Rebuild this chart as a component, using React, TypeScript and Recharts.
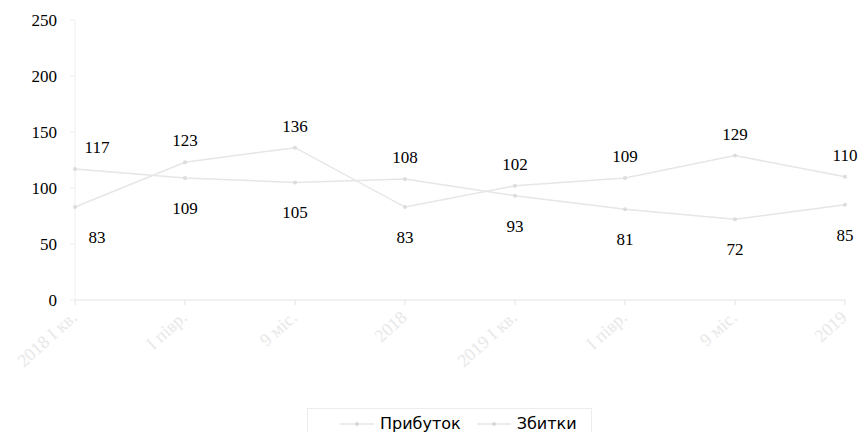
import { LineChart, Line, XAxis, YAxis, Legend, LabelList } from 'recharts';

const periods = ['2018 I кв.', 'I півр.', '9 міс.', '2018', '2019 I кв.', 'I півр.', '9 міс.', '2019'];
const profit = [117, 109, 105, 108, 93, 81, 72, 85];
const losses = [83, 123, 136, 83, 102, 109, 129, 110];
const yTicks = [0, 50, 100, 150, 200, 250];

const data = periods.map((p, i) => ({ id: i, period: p, profit: profit[i], losses: losses[i] }));

const lineColor = '#e6e6e6';
const serif = "'Liberation Serif', 'DejaVu Serif', serif";

const makeLabel = (own: number[], other: number[]) => (props: any) => {
    const { x, y, index, value } = props;
    const above = own[index] >= other[index];
    const dx = index === 0 ? 22 : 0;
    return (
        <text
            x={x + dx}
            y={above ? y - 16 : y + 36}
            textAnchor="middle"
            style={{ fontFamily: serif, fontSize: 17 }}
            fill="#000"
        >
            {value}
        </text>
    );
};

const YTick = (props: any) => {
    const { x, y, payload } = props;
    return (
        <text x={x} y={y + 6} textAnchor="end" style={{ fontFamily: serif, fontSize: 17 }} fill="#000">
            {payload.value}
        </text>
    );
};

const XTick = (props: any) => {
    const { x, y, payload } = props;
    return (
        <g transform={`translate(${x + 3},${y + 12})`}>
            <text
                textAnchor="end"
                transform="rotate(-42)"
                style={{ fontFamily: serif, fontSize: 18 }}
                fill="#e8e8e8"
            >
                {periods[payload.value]}
            </text>
        </g>
    );
};

const LegendBox = () => (
    <div
        style={{
            display: 'flex',
            alignItems: 'center',
            border: '1px solid #ececec',
            padding: '5px 14px 8px 32px',
            fontFamily: "'DejaVu Sans', sans-serif",
            fontSize: 16,
            color: '#000',
            background: '#fff',
        }}
    >
        {['Прибуток', 'Збитки'].map((name, i) => (
            <span key={name} style={{ display: 'flex', alignItems: 'center', marginRight: i === 0 ? 16 : 0 }}>
                <svg width={34} height={10} style={{ marginRight: 6 }}>
                    <line x1={0} y1={5} x2={34} y2={5} stroke={lineColor} strokeWidth={1.5} />
                    <circle cx={17} cy={5} r={2} fill="#d8d8d8" />
                </svg>
                {name}
            </span>
        ))}
    </div>
);

const App = () => {
    return (
        <div style={{ position: 'absolute', left: 0, top: 0, background: '#fff' }}>
            <LineChart width={865} height={432} data={data} margin={{ top: 20, right: 20, bottom: 0, left: 0 }}>
                <XAxis
                    dataKey="id"
                    type="category"
                    stroke="#e4e4e4"
                    tickSize={5}
                    tick={<XTick />}
                    height={98}
                    interval={0}
                />
                <YAxis
                    domain={[0, 250]}
                    ticks={yTicks}
                    width={75}
                    stroke="#eeeeee"
                    tickSize={5}
                    tickMargin={13}
                    tick={<YTick />}
                />
                <Legend
                    content={<LegendBox />}
                    wrapperStyle={{ top: 408, left: 307, width: 'auto' }}
                />
                <Line
                    dataKey="profit"
                    name="Прибуток"
                    stroke={lineColor}
                    strokeWidth={1.5}
                    dot={{ r: 2, fill: '#dcdcdc', stroke: 'none' }}
                    isAnimationActive={false}
                >
                    <LabelList dataKey="profit" content={makeLabel(profit, losses)} />
                </Line>
                <Line
                    dataKey="losses"
                    name="Збитки"
                    stroke={lineColor}
                    strokeWidth={1.5}
                    dot={{ r: 2, fill: '#dcdcdc', stroke: 'none' }}
                    isAnimationActive={false}
                >
                    <LabelList dataKey="losses" content={makeLabel(losses, profit)} />
                </Line>
            </LineChart>
        </div>
    );
};

export default App;
